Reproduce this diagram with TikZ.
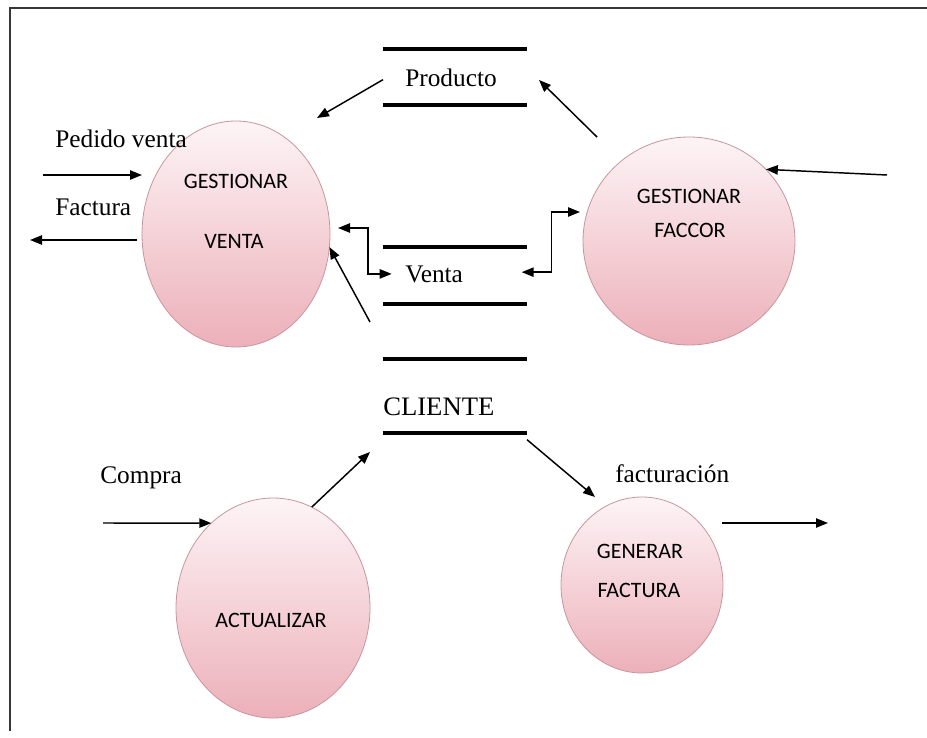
\documentclass[tikz,border=0pt]{standalone}
\usepackage{fontspec}
\setmainfont{Liberation Serif}
\newfontfamily\procfont{Carlito}
\usetikzlibrary{shapes.geometric,arrows.meta,calc}
\definecolor{bubbletop}{RGB}{253,244,246}
\definecolor{bubblebot}{RGB}{236,176,185}
\definecolor{bubbleedge}{RGB}{198,150,160}
\definecolor{framegray}{RGB}{55,55,55}
\begin{document}
\begin{tikzpicture}[x=0.75pt,y=-0.75pt,
  process/.style={ellipse, inner sep=0pt, outer sep=0pt, draw=bubbleedge,
    line width=0.6pt, top color=bubbletop, bottom color=bubblebot},
  proctext/.style={font=\procfont\fontsize{16.5}{18}\selectfont, inner sep=0pt, anchor=base},
  lbl/.style={font=\fontsize{19}{21}\selectfont, inner sep=0pt, anchor=base west},
  store/.style={rectangle, inner sep=0pt, outer sep=0pt, minimum width=108pt},
  storeline/.style={line width=3pt},
  flow/.style={line width=1.1pt, -{Triangle[length=9pt,width=7pt]}},
  flowboth/.style={line width=1.1pt, {Triangle[length=9pt,width=7pt]}-{Triangle[length=9pt,width=7pt]}},
]
\useasboundingbox (0,0) rectangle (927,738);

% page frame
\draw[framegray, line width=1.5pt] (10,731) -- (10,8) -- (927,8);

% processes
\node[process, minimum width=141pt, minimum height=169.5pt] (gv) at (236,234) {};
\node[process, minimum width=159pt, minimum height=156pt] (gf) at (689,241) {};
\node[process, minimum width=145.5pt, minimum height=165pt] (ac) at (273,608) {};
\node[process, minimum width=121.5pt, minimum height=132pt] (gen) at (642,585) {};

\node[proctext] (gv1) at (236,188) {GESTIONAR};
\node[proctext] (gv2) at (234,248) {VENTA};
\node[proctext] (gf1) at (689,203) {GESTIONAR};
\node[proctext] (gf2) at (690,237) {FACCOR};
\node[proctext] (ac1) at (271,627) {ACTUALIZAR};
\node[proctext] (gen1) at (640,558) {GENERAR};
\node[proctext] (gen2) at (639,597) {FACTURA};

% data stores
\node[store, minimum height=42pt] (sp) at (455,77) {};
\node[store, minimum height=42.75pt] (sv) at (455,275.5) {};
\node[store, minimum height=55.5pt] (sc) at (455,396) {};
\foreach \s in {sp,sv,sc}
  \draw[storeline] (\s.north west) -- (\s.north east) (\s.south west) -- (\s.south east);

\node[lbl] (producto) at (405,87) {Producto};
\node[lbl] (venta) at (405,282) {Venta};
\node[lbl, font=\fontsize{20}{22}\selectfont] (cliente) at (383,415) {CLIENTE};

% flow labels
\node[lbl] (pedido) at (55,147) {Pedido venta};
\node[lbl] (factura) at (55,215) {Factura};
\node[lbl] (compra) at (100,483) {Compra};
\node[lbl] (facturacion) at (615,482) {facturación};

% free ends of the flows
\coordinate (pvin) at (43,175);
\coordinate (faout) at (30,240);
\coordinate (gvp) at (317,118);
\coordinate (gfp) at (597,137);
\coordinate (ptip) at (539,80);
\coordinate (ext) at (887,175);
\coordinate (vtail) at (370,322);
\coordinate (cin) at (103,523);
\coordinate (ctip) at (370,452);
\coordinate (gtip) at (595,497);
\coordinate (gout0) at (722,523);
\coordinate (gout) at (828,523);

% flows
\draw[flow] (pvin) -- (pvin -| gv.west);
\draw[flow, shorten <=4pt] (gv.west |- faout) -- (faout);
\draw[flow] ([yshift=-2pt]sp.west) -- (gvp);
\draw[flow] (gfp) -- (ptip);
\draw[flow] (ext) -- (gf.43);
\draw[flow] (vtail) -- (gv.-8);
\draw[flowboth] ([xshift=6pt,yshift=4.5pt]gv.east) -- ++(30,0) |- ([xshift=-10pt]venta.west);
\draw[flowboth] ([xshift=-4pt,yshift=2.5pt]sv.east) -- ++(30,0) |- ([xshift=-2.25pt,yshift=21.75pt]gf.west);
\draw[flow] (ac.69) -- (ctip);
\draw[flow] (cin) -- (ac.126);
\draw[flow] ([yshift=-5pt]sc.south east) -- (gtip);
\draw[flow] (gout0) -- (gout);
\end{tikzpicture}
\end{document}
